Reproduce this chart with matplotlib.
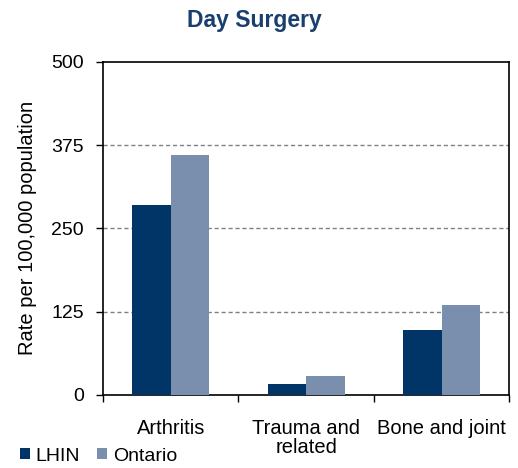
import matplotlib
matplotlib.use("Agg")
import matplotlib.pyplot as plt
import numpy as np

categories = ["Arthritis", "Trauma and\nrelated", "Bone and joint"]
lhin = [285, 16, 97]
ontario = [360, 28, 135]
series_names = ["LHIN", "Ontario"]
yticks = [0, 125, 250, 375, 500]

c_lhin = "#023567"
c_ont = "#7a8fae"

plt.rcParams['font.family'] = ['Liberation Sans', 'DejaVu Sans']

fig = plt.figure(figsize=(5.18, 4.68), dpi=100)
ax = fig.add_axes([0.199, 0.156, 0.784, 0.712])

x = np.arange(len(categories))
w = 0.285
ax.bar(x - w/2, lhin, width=w, color=c_lhin, label=series_names[0], zorder=3)
ax.bar(x + w/2, ontario, width=w, color=c_ont, label=series_names[1], zorder=3)

ax.set_xlim(-0.5, 2.5)
ax.set_ylim(0, 500)
ax.set_yticks(yticks)
ax.set_yticklabels([str(v) for v in yticks], fontsize=14)
for v in yticks[1:-1]:
    ax.axhline(v, color="#808080", linestyle=(0, (3, 2)), linewidth=1, zorder=1)

ax.set_xticks([-0.5, 0.5, 1.5, 2.5])
ax.set_xticklabels([])
ax.set_xticks(x, minor=True)
ax.set_xticklabels(categories, minor=True, fontsize=14.5, linespacing=1.0)
ax.tick_params(axis='x', which='minor', length=0, pad=17)
ax.tick_params(axis='x', which='major', length=5, width=1, direction='out', color='black')
ax.tick_params(axis='y', length=5, width=1, direction='out', pad=9)

for s in ax.spines.values():
    s.set_color("black")
    s.set_linewidth(1.2)

ax.set_ylabel("Rate per 100,000 population", fontsize=14.5, labelpad=10)
fig.text(0.492, 0.956, "Day Surgery", ha='center', va='center', fontsize=16.5,
         fontweight='bold', color="#1a3e6e")

fig.legend(loc='lower left', bbox_to_anchor=(0.012, -0.022), ncol=2, frameon=False,
           fontsize=14, handlelength=0.5, handleheight=0.5, handletextpad=0.3,
           columnspacing=0.9, borderpad=0.2)

fig.savefig("out.png", dpi=100)
